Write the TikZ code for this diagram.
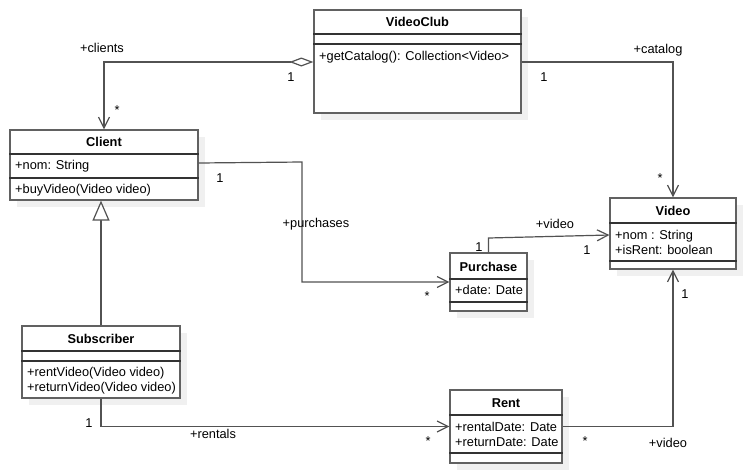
\documentclass[tikz,border=0pt]{standalone}
\usepackage{fontspec}
\setmainfont{Liberation Sans}
\usetikzlibrary{arrows.meta,shadows}
\def\umlfont{\fontsize{12.8}{15}\selectfont}
\tikzset{
	classbox/.style={draw=black!62, line width=1.2pt, fill=white, inner sep=0pt,
		drop shadow={shadow xshift=7pt, shadow yshift=-7pt, fill=black!6, opacity=1}},
	sepline/.style={draw=black!80, line width=1.6pt},
	clsname/.style={font=\umlfont\bfseries, inner sep=0pt},
	member/.style={font=\umlfont, anchor=west, align=left, inner sep=0pt},
	lbl/.style={font=\umlfont, inner sep=0pt},
	assoc/.style={draw=black!68, line width=1.2pt, -{Straight Barb[length=11pt,width=11pt]}},
}

\begin{document}
\begin{tikzpicture}[x=1pt, y=-1pt]
			%%%%% START %%%%%
			\useasboundingbox (0,0) rectangle (746,472);
			
			\node[classbox, minimum width=207pt, minimum height=103pt] (videoclub) at (417.5,61.5) {};
			\node[classbox, minimum width=188pt, minimum height=70pt] (client) at (104,165) {};
			\node[classbox, minimum width=126pt, minimum height=71pt] (video) at (673,233.5) {};
			\node[classbox, minimum width=77pt, minimum height=58pt] (purchase) at (488.5,282) {};
			\node[classbox, minimum width=158pt, minimum height=72pt] (subscriber) at (101,362) {};
			\node[classbox, minimum width=112pt, minimum height=73pt] (rent) at (506,426.5) {};
			
			\draw[sepline] (videoclub.west |- 0,34) -- (videoclub.east |- 0,34);
			\draw[sepline] (videoclub.west |- 0,44) -- (videoclub.east |- 0,44);
			\node[clsname] (videoclubname) at (videoclub.north |- 0,22) {VideoClub};
			\node[member] (videoclubops) at (319,57) {+getCatalog(): Collection<Video>};
			
			\draw[sepline] (client.west |- 0,154) -- (client.east |- 0,154);
			\draw[sepline] (client.west |- 0,178) -- (client.east |- 0,178);
			\node[clsname] (clientname) at (client.north |- 0,142) {Client};
			\node[member] (clientattrs) at (15,166) {+nom: String};
			\node[member] (clientops) at (15,190) {+buyVideo(Video video)};
			
			\draw[sepline] (video.west |- 0,223) -- (video.east |- 0,223);
			\draw[sepline] (video.west |- 0,261) -- (video.east |- 0,261);
			\node[clsname] (videoname) at (video.north |- 0,211) {Video};
			\node[member] (videoattrs) at (615,242) {+nom : String\\+isRent: boolean};
			
			\draw[sepline] (purchase.west |- 0,279) -- (purchase.east |- 0,279);
			\draw[sepline] (purchase.west |- 0,302) -- (purchase.east |- 0,302);
			\node[clsname] (purchasename) at (purchase.north |- 0,266.5) {Purchase};
			\node[member] (purchaseattrs) at (455,290) {+date: Date};
			
			\draw[sepline] (subscriber.west |- 0,351) -- (subscriber.east |- 0,351);
			\draw[sepline] (subscriber.west |- 0,361) -- (subscriber.east |- 0,361);
			\node[clsname] (subscribername) at (subscriber.north |- 0,339) {Subscriber};
			\node[member] (subscriberops) at (27,381) {+rentVideo(Video video)\\+returnVideo(Video video)};
			
			\draw[sepline] (rent.west |- 0,415) -- (rent.east |- 0,415);
			\draw[sepline] (rent.west |- 0,453) -- (rent.east |- 0,453);
			\node[clsname] (rentname) at (rent.north |- 0,403) {Rent};
			\node[member] (rentattrs) at (455,434.5) {+rentalDate: Date\\+returnDate: Date};
			
			% associations
			\draw[assoc, {Diamond[open,length=24pt,width=9pt]}-{Straight Barb[length=11pt,width=11pt]}] (videoclub.west |- 0,62) -| (client.north);
			\draw[assoc] (videoclub.east |- 0,62) -| (video.north);
			\draw[assoc] (client.east |- 0,163) -- (302,162) |- (purchase.west);
			\draw[assoc] (purchase.north) -- (488.5,238) -- (video.west |- 0,235);
			\draw[assoc] (subscriber.south) |- (rent.west);
			\draw[assoc] (rent.east) -| (video.south);
			\draw[assoc, -{Triangle[length=20pt,width=17pt,fill=white]}] (subscriber.north) -- (subscriber.north |- client.south);
			
			% role names and multiplicities
			\node[lbl] (lclients) at (102,48) {+clients};
			\node[lbl] (lclub1) at (291,77) {1};
			\node[lbl] (lclientsmany) at (117,110) {*};
			\node[lbl] (lcatalog) at (658,50) {+catalog};
			\node[lbl] (lcatalog1) at (544,77) {1};
			\node[lbl] (lcatalogmany) at (660,178) {*};
			\node[lbl] (lbuyer1) at (220,178) {1};
			\node[lbl] (lpurchases) at (316,224) {+purchases};
			\node[lbl] (lpurchasesmany) at (427,296) {*};
			\node[lbl] (lpvideo) at (555,224) {+video};
			\node[lbl] (lpurchase1) at (479,247) {1};
			\node[lbl] (lpvideo1) at (587,250) {1};
			\node[lbl] (lrenter1) at (89,423) {1};
			\node[lbl] (lrentals) at (213,434) {+rentals};
			\node[lbl] (lrentalsmany) at (428,441) {*};
			\node[lbl] (lrentmany) at (585,441) {*};
			\node[lbl] (lrvideo) at (668,443) {+video};
			\node[lbl] (lrvideo1) at (685,294) {1};
			
			%%%%% END %%%%%
\end{tikzpicture}
\end{document}
